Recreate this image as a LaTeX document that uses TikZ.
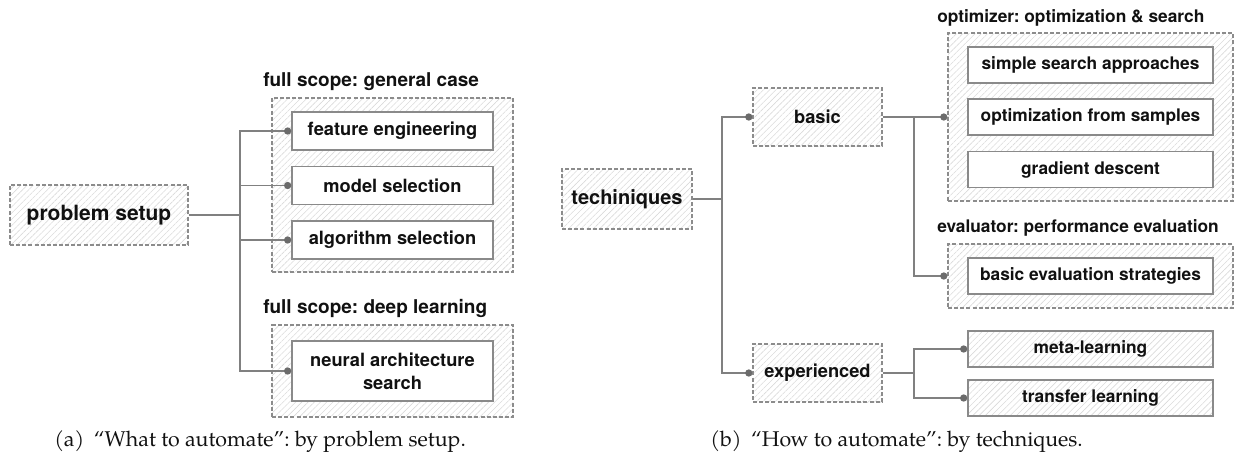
\documentclass[tikz,border=0pt]{standalone}
\usepackage{fontspec}
\usetikzlibrary{patterns.meta,arrows.meta}
\newfontfamily\hv{TeX Gyre Heros}
\newfontfamily\capfont{texgyrepagella-regular.otf}
\definecolor{linec}{HTML}{808080}
\definecolor{dotc}{HTML}{6B6B6B}
\definecolor{dashc}{HTML}{8C8C8C}
\definecolor{boxc}{HTML}{8A8A8A}
\definecolor{hatchc}{HTML}{DADADA}
\definecolor{txtc}{HTML}{111111}
\frenchspacing
\tikzset{
  conn/.style={draw=linec, line width=1pt},
  dotend/.style={-{Circle[length=5.4pt,color=dotc,fill=dotc]}},
  hatch/.style={pattern={Lines[angle=45,distance=3.3pt,line width=0.45pt]}, pattern color=hatchc},
  grp/.style={hatch, draw=dashc, dash pattern=on 3pt off 1.6pt, line width=0.9pt, inner sep=0pt, text=txtc},
  inbox/.style={draw=boxc, line width=1.1pt, fill=white, inner sep=0pt, align=center, text=txtc},
  hbox/.style={hatch, draw=boxc, line width=1.1pt, inner sep=0pt, align=center, text=txtc},
  rootfontA/.style={font=\hv\bfseries\fontsize{15.75pt}{18pt}\selectfont},
  rootfontB/.style={font=\hv\bfseries\fontsize{15pt}{18pt}\selectfont},
  lblA/.style={font=\hv\bfseries\fontsize{13.7pt}{17pt}\selectfont},
  lblB/.style={font=\hv\bfseries\fontsize{13pt}{16pt}\selectfont},
  midB/.style={font=\hv\bfseries\fontsize{13.7pt}{16pt}\selectfont},
  ttlA/.style={font=\hv\bfseries\fontsize{14.25pt}{17pt}\selectfont, anchor=west, inner sep=0pt, text=txtc},
  ttlB/.style={font=\hv\bfseries\fontsize{13pt}{16pt}\selectfont, anchor=west, inner sep=0pt, text=txtc},
  capt/.style={font=\capfont\fontsize{16pt}{19pt}\selectfont, anchor=base west, inner sep=0pt, text=txtc},
}
\begin{document}
\begin{tikzpicture}[x=0.75pt,y=-0.75pt]
\useasboundingbox (0,0) rectangle (1235,455);
% ---------------- (a) ----------------
\node[grp, rootfontA, minimum width=133.5pt, minimum height=45pt] (ps) at (99,215) {problem setup};
\node[grp, minimum width=180.75pt, minimum height=130.5pt] (geng) at (392.5,185) {};
\node[ttlA] (gent) at (263,82) {full scope: general case};
\node[inbox, lblA, minimum width=150.75pt, minimum height=28.5pt] (fe) at (392.5,131) {feature engineering};
\node[inbox, lblA, minimum width=150.75pt, minimum height=28.5pt] (ms) at (392.5,185.5) {model selection};
\node[inbox, lblA, minimum width=150.75pt, minimum height=28.5pt] (as) at (392.5,240) {algorithm selection};
\node[grp, minimum width=180.75pt, minimum height=69pt] (dlg) at (392.5,371) {};
\node[ttlA] (dlt) at (263,308) {full scope: deep learning};
\node[inbox, lblA, minimum width=150.75pt, minimum height=45pt] (nas) at (392.5,371) {neural architecture\\search};
\coordinate (jA) at (240,215);
\draw[conn] (ps.east) -- (jA);
\draw[conn, dotend] (jA) |- (fe.west);
\draw[conn, dotend] (jA) |- (ms.west);
\draw[conn, dotend] (jA) |- (as.west);
\draw[conn, dotend] (jA) |- (nas.west);
\node[capt] (capa) at (54,446) {(a)\hspace{0.45em}“What to automate”: by problem setup.};
% ---------------- (b) ----------------
\node[grp, rootfontB, minimum width=97.5pt, minimum height=45pt] (tech) at (627,199) {techiniques};
\node[grp, midB, minimum width=96.75pt, minimum height=43.5pt] (basic) at (817.5,117) {basic};
\node[grp, midB, minimum width=96.75pt, minimum height=43.5pt] (exp) at (817.5,373) {experienced};
\node[grp, minimum width=213.75pt, minimum height=126pt] (optg) at (1090.5,117) {};
\node[ttlB] (optt) at (937,18) {optimizer: optimization \& search};
\node[inbox, lblB, minimum width=183.75pt, minimum height=27pt] (sss) at (1090.5,65) {simple search approaches};
\node[inbox, lblB, minimum width=183.75pt, minimum height=27pt] (ofs) at (1090.5,117) {optimization from samples};
\node[inbox, lblB, minimum width=183.75pt, minimum height=27pt] (gd) at (1090.5,169.5) {gradient descent};
\node[grp, minimum width=213.75pt, minimum height=48pt] (evalg) at (1090.5,276) {};
\node[ttlB] (evalt) at (937,228) {evaluator: performance evaluation};
\node[inbox, lblB, minimum width=183.75pt, minimum height=27pt] (bes) at (1090.5,276) {basic evaluation strategies};
\node[hbox, lblB, minimum width=183.75pt, minimum height=27pt] (meta) at (1090.5,349) {meta-learning};
\node[hbox, lblB, minimum width=183.75pt, minimum height=27pt] (tl) at (1090.5,398) {transfer learning};
\coordinate (jB) at (722,199);
\coordinate (jC) at (914,117);
\coordinate (jD) at (914,373);
\draw[conn] (tech.east) -- (jB);
\draw[conn, dotend] (jB) |- (basic.west);
\draw[conn, dotend] (jB) |- (exp.west);
\draw[conn] (basic.east) -- (jC);
\draw[conn, dotend] (jC) -- (optg.west);
\draw[conn, dotend] (jC) |- (evalg.west);
\draw[conn] (exp.east) -- (jD);
\draw[conn, dotend] (jD) |- (meta.west);
\draw[conn, dotend] (jD) |- (tl.west);
\node[capt] (capb) at (710,446) {(b)\hspace{0.45em}“How to automate”: by techniques.};
\end{tikzpicture}
\end{document}
